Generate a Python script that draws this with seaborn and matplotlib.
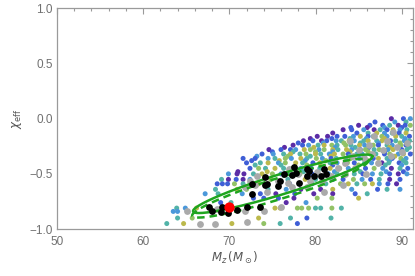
import numpy as np
import pandas as pd
import seaborn as sns
import matplotlib.pyplot as plt

# coloured sample points, stored row by row (chi_eff value, M_z values, colour class)
row_chi = [0.0, -0.03, -0.06, -0.08, -0.1, -0.13, -0.16, -0.18, -0.2, -0.22,
           -0.24, -0.26, -0.28, -0.3, -0.32, -0.34, -0.36, -0.38, -0.4, -0.42,
           -0.45, -0.48, -0.5, -0.55, -0.59, -0.64, -0.68, -0.72, -0.76,
           -0.81, -0.84, -0.9, -0.95]
row_mz = [
    [88.8, 90.2, 91.0],
    [86.9, 89.2, 90.5],
    [85.0, 86.3, 87.8, 88.6, 89.6, 90.4, 91.0],
    [84.1, 86.0, 88.0, 90.0],
    [83.2, 84.2, 85.6, 86.8, 87.5, 88.3, 89.0, 89.8, 90.6],
    [82.0, 84.8, 86.1, 87.1, 88.0, 88.9, 89.7, 90.5],
    [80.2, 81.4, 82.5, 83.4, 84.4, 85.2, 86.1, 86.7, 87.7, 88.3, 89.3, 90.0, 90.9],
    [79.4, 81.9, 84.0, 85.9, 88.0, 90.4],
    [78.6, 79.7, 80.7, 81.3, 82.4, 83.0, 83.9, 84.5, 85.6, 86.1, 87.1, 87.7, 88.7, 89.3, 90.3, 90.9],
    [78.0, 80.9, 83.3, 85.2, 87.3, 89.8],
    [77.4, 78.5, 79.2, 80.3, 81.0, 81.9, 82.5, 83.5, 84.1, 85.1, 85.7, 86.7, 87.3, 88.3, 88.9, 89.9, 90.5],
    [76.4, 79.8, 82.3, 84.6, 86.2, 88.6, 90.9],
    [74.6, 76.0, 77.1, 77.7, 78.7, 79.4, 80.4, 81.0, 82.0, 82.6, 83.6, 84.2, 85.2, 85.8, 86.8, 87.4, 88.4, 89.0, 90.0, 90.6],
    [75.0, 77.4, 80.0, 82.0, 84.0, 86.1, 88.0, 90.0],
    [73.8, 75.1, 76.3, 77.1, 78.2, 78.9, 80.0, 80.6, 81.6, 82.2, 83.2, 83.8, 84.8, 85.4, 86.4, 87.0, 88.0, 88.6, 89.6, 90.2, 91.0],
    [73.2, 76.8, 79.4, 81.8, 84.0, 86.6, 89.2],
    [71.6, 73.0, 74.5, 75.3, 76.5, 77.2, 78.3, 79.0, 80.1, 80.8, 81.8, 82.4, 83.5, 84.1, 85.1, 85.7, 86.7, 87.3, 88.3, 88.9, 89.9, 90.5],
    [72.6, 75.8, 78.8, 81.2, 83.6, 86.1, 88.6, 90.2],
    [72.0, 73.6, 74.5, 75.7, 76.5, 77.7, 78.5, 79.7, 80.5, 81.7, 82.5, 83.7, 84.5, 85.7, 86.5, 87.7, 88.5, 89.7, 90.5],
    [73.0, 76.0, 79.0, 82.0, 85.0, 88.1, 90.0],
    [72.4, 73.4, 74.2, 75.3, 76.3, 77.3, 78.3, 79.5, 80.5, 81.7, 82.8, 83.8, 84.8, 85.8, 86.8, 87.8, 88.8, 89.8, 90.7],
    [71.0, 74.4, 78.6, 82.2, 85.2, 88.2, 90.2],
    [69.9, 70.9, 71.7, 72.8, 73.8, 75.0, 76.0, 77.0, 78.2, 79.6, 81.5, 82.5, 83.5, 84.5, 85.5, 86.6, 87.6, 88.6, 89.6, 90.6],
    [69.1, 69.9, 70.8, 71.6, 72.4, 74.8, 76.8, 78.8, 80.0, 82.0, 83.2, 84.4, 85.4, 86.4, 87.4, 88.6, 89.8],
    [68.6, 69.2, 69.8, 70.6, 71.6, 73.4, 77.0, 79.6, 81.2, 82.9, 83.8, 84.8, 85.7, 86.6, 87.4, 88.4, 89.4],
    [68.4, 70.9, 72.0, 74.5, 76.6, 78.3, 80.6, 82.0, 84.2, 87.2, 88.3, 89.8],
    [67.2, 68.7, 71.5, 73.6, 75.4, 77.6, 79.8, 82.0, 84.6, 86.0],
    [72.8, 74.0, 75.7, 77.5, 80.2, 81.9, 85.0],
    [69.0, 70.2, 76.6, 78.9],
    [63.9, 64.9, 66.2, 75.3, 75.9, 77.9, 78.4, 79.2, 80.0, 80.6, 81.9, 83.0],
    [63.5, 64.0],
    [64.0, 65.7, 73.4, 77.1, 79.0, 81.8],
    [62.75, 64.7, 70.3, 74.0, 75.9, 77.9],
]
row_hue = [
    [0, 1, 2],
    [1, 2, 3],
    [0, 1, 1, 3, 0, 1, 4],
    [1, 0, 2, 1],
    [0, 1, 2, 0, 3, 1, 5, 2, 3],
    [0, 1, 3, 5, 2, 3, 1, 5],
    [0, 0, 1, 1, 2, 5, 1, 3, 4, 2, 5, 3, 1],
    [0, 1, 3, 2, 5, 2],
    [0, 1, 0, 1, 2, 3, 5, 2, 3, 5, 3, 5, 1, 3, 2, 3],
    [1, 2, 4, 3, 2, 4],
    [0, 1, 2, 3, 5, 4, 3, 4, 3, 5, 2, 4, 1, 3, 2, 4, 1],
    [0, 5, 2, 3, 1, 5, 3],
    [0, 1, 1, 2, 5, 4, 2, 4, 5, 3, 5, 2, 1, 4, 3, 4, 2, 5, 1, 3],
    [1, 3, 4, 2, 5, 4, 1, 3],
    [1, 2, 3, 5, 3, 4, 5, 3, 2, 5, 4, 1, 3, 2, 5, 3, 1, 4, 2, 5, 1],
    [2, 4, 3, 5, 3, 2, 5],
    [1, 1, 2, 3, 4, 2, 5, 3, 4, 2, 1, 3, 5, 4, 2, 3, 1, 5, 3, 1, 4, 2],
    [1, 5, 2, 4, 3, 4, 2, 3],
    [1, 3, 5, 2, 4, 5, 3, 1, 5, 3, 2, 4, 1, 3, 2, 0, 3, 1, 3],
    [3, 3, 4, 1, 4, 3, 2],
    [1, 4, 3, 5, 3, 4, 2, 1, 3, 5, 4, 2, 3, 1, 4, 2, 0, 3, 1],
    [0, 5, 3, 2, 3, 2, 1],
    [2, 0, 0, 3, 5, 4, 2, 3, 4, 1, 2, 3, 4, 3, 1, 2, 3, 1, 0, 2],
    [3, 0, 1, 0, 2, 4, 3, 5, 3, 1, 1, 4, 2, 1, 3, 0, 1],
    [1, 1, 1, 4, 3, 5, 1, 2, 3, 4, 5, 3, 4, 5, 2, 1, 0],
    [3, 5, 4, 3, 2, 0, 0, 5, 2, 1, 3, 2],
    [2, 3, 2, 1, 0, 1, 0, 0, 1, 3],
    [1, 1, 1, 0, 4, 4, 5],
    [1, 3, 0, 2],
    [3, 2, 5, 5, 5, 4, 4, 4, 3, 3, 4, 3],
    [2, 2],
    [3, 4, 5, 3, 1, 3],
    [3, 5, 5, 4, 3, 1],
]

# grey points
grey_mz = [65.1, 66.6, 68.4, 72.05, 68.6, 70.0, 71.8, 72.4, 73.2, 71.8, 73.0, 74.0,
           76.0, 74.4, 75.6, 76.8, 77.3, 78.0, 76.9, 79.4, 80.2, 80.8, 81.8, 82.6,
           83.4, 82.2, 83.4, 84.4, 85.0, 85.6, 86.2, 86.6, 87.2, 87.8, 88.3, 88.8,
           89.4, 90.0, 90.6, 89.0, 84.6, 85.8, 79.0, 81.0, 83.2, 84.0, 86.8]
grey_chi = [-0.84, -0.95, -0.95, -0.94, -0.82, -0.82, -0.84, -0.56, -0.52, -0.62, -0.6, -0.84,
            -0.8, -0.66, -0.56, -0.58, -0.62, -0.5, -0.46, -0.56, -0.48, -0.56, -0.52, -0.45,
            -0.5, -0.38, -0.4, -0.34, -0.28, -0.36, -0.24, -0.32, -0.4, -0.28, -0.2, -0.34,
            -0.26, -0.3, -0.22, -0.12, -0.45, -0.5, -0.62, -0.66, -0.6, -0.2, -0.16]

# black points
black_mz = [67.6, 68.0, 69.1, 69.0, 69.9, 70.9, 72.05, 73.6, 72.6, 72.6, 74.2, 74.2,
            74.4, 75.7, 75.9, 76.3, 77.3, 77.7, 78.1, 77.5, 79.0, 79.2, 79.0, 79.8,
            80.6, 81.0, 81.2]
black_chi = [-0.8, -0.84, -0.8, -0.845, -0.85, -0.83, -0.8, -0.8, -0.59, -0.685, -0.53, -0.6,
             -0.59, -0.61, -0.56, -0.5, -0.51, -0.49, -0.58, -0.44, -0.46, -0.47, -0.52, -0.52,
             -0.52, -0.46, -0.5]

# injected value
red_mz = [70.0]
red_chi = [-0.8]

# 90% contour ellipses: centre, half-major vector, half-minor vector (data units)
ell_center = (76.2, -0.59)
ell_major = (10.4, 0.25)
ell_minor = (0.34, -0.087)
dash_center = (75.9, -0.63)
dash_major = (10.2, 0.25)
dash_minor = (0.36, -0.09)

palette = ['#5b2ca6', '#3f5ed6', '#4b98da', '#52b3a8', '#92c266', '#bcb94c']

pts = pd.DataFrame({
    'mz': [m for row in row_mz for m in row],
    'chi': [c for c, row in zip(row_chi, row_mz) for _ in row],
    'hue': [h for row in row_hue for h in row],
})


def ellipse(center, major, minor):
    t = np.linspace(0, 2 * np.pi, 300)
    x = center[0] + major[0] * np.cos(t) + minor[0] * np.sin(t)
    y = center[1] + major[1] * np.cos(t) + minor[1] * np.sin(t)
    return x, y


sns.set_style('white')
plt.rcParams['font.family'] = ['Liberation Sans', 'DejaVu Sans']
fig = plt.figure(figsize=(4.15, 2.76), dpi=100)
ax = fig.add_axes([0.137, 0.170, 0.858, 0.800])

sns.scatterplot(data=pts, x='mz', y='chi', hue='hue', palette=palette,
                s=13, linewidth=0, legend=False, ax=ax, zorder=2)
sns.scatterplot(x=grey_mz, y=grey_chi, color='#aaaaaa', s=24, linewidth=0, ax=ax, zorder=3)

ex, ey = ellipse(dash_center, dash_major, dash_minor)
ax.plot(ex, ey, color='#1fa51f', lw=1.8, ls=(0, (3, 2)), zorder=4)
ex, ey = ellipse(ell_center, ell_major, ell_minor)
ax.plot(ex, ey, color='#1fa51f', lw=1.8, zorder=4)

sns.scatterplot(x=black_mz, y=black_chi, color='black', s=24, linewidth=0, ax=ax, zorder=5)
sns.scatterplot(x=red_mz, y=red_chi, color='#ff0000', s=55, linewidth=0, ax=ax, zorder=6)

ax.set_xlim(50, 91.3)
ax.set_ylim(-1.0, 1.0)
ax.set_xticks([50, 60, 70, 80, 90])
ax.set_xticks(np.arange(50, 92, 2), minor=True)
ax.set_yticks([-1.0, -0.5, 0.0, 0.5, 1.0])
ax.set_yticks(np.arange(-1.0, 1.01, 0.1), minor=True)
ax.set_yticklabels(['\u22121.0', '\u22120.5', '0.0', '0.5', '1.0'])

for sp in ax.spines.values():
    sp.set_color('#9a9a9a')
    sp.set_linewidth(0.9)
ax.tick_params(which='both', direction='in', top=True, right=True,
               color='#9a9a9a', labelcolor='#707070', labelsize=8.5, width=0.8)
ax.tick_params(which='major', length=4)
ax.tick_params(which='minor', length=2)
ax.tick_params(axis='x', which='major', pad=5)
ax.tick_params(axis='y', which='major', pad=3)

ax.set_xlabel(r'$M_z\,(M_\odot)$', color='#555555', fontsize=8.5, labelpad=1)
ax.set_ylabel(r'$\chi_{\rm eff}$', color='#555555', fontsize=8.5, labelpad=4)

fig.savefig('out.png', dpi=100)
